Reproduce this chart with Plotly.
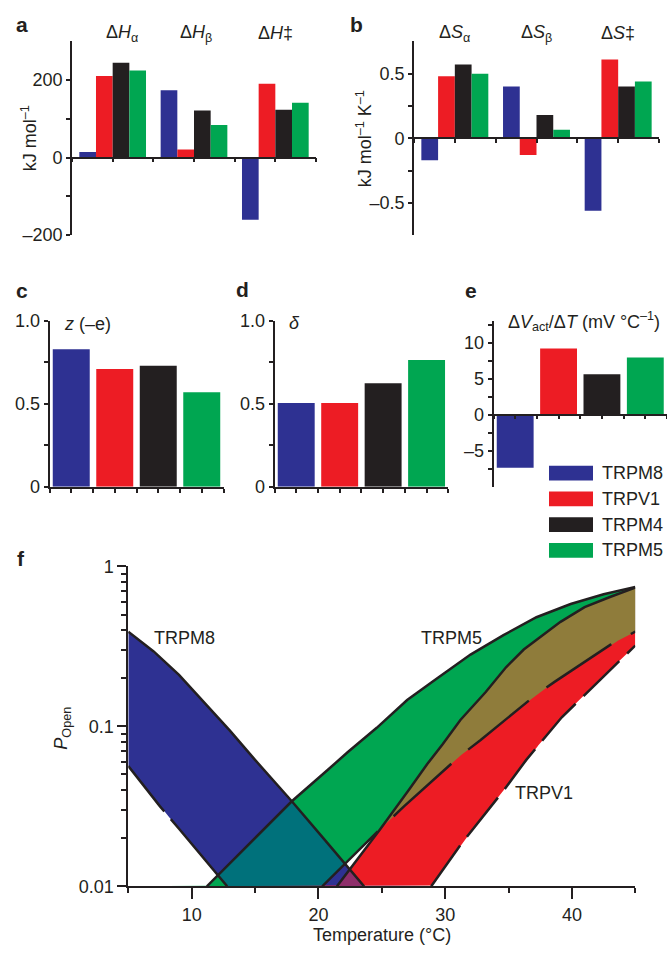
import numpy as np
import plotly.graph_objects as go

W, H = 667, 956
FONT = "Liberation Sans, Arial, sans-serif"
INK = "#231F20"

# ---------------- data ----------------
channels = ["TRPM8", "TRPV1", "TRPM4", "TRPM5"]
colors = ["#2E3192", "#ED1C24", "#231F20", "#00A651"]

# panel a: enthalpies (kJ mol-1)
h_labels = ["Δ<i>H</i><sub>α</sub>", "Δ<i>H</i><sub>β</sub>", "Δ<i>H</i>‡"]
dH_TRPM8 = [14, 173, -160]
dH_TRPV1 = [210, 21, 190]
dH_TRPM4 = [244, 121, 123]
dH_TRPM5 = [224, 84, 141]

# panel b: entropies (kJ mol-1 K-1)
s_labels = ["Δ<i>S</i><sub>α</sub>", "Δ<i>S</i><sub>β</sub>", "Δ<i>S</i>‡"]
dS_TRPM8 = [-0.17, 0.40, -0.56]
dS_TRPV1 = [0.48, -0.13, 0.61]
dS_TRPM4 = [0.57, 0.18, 0.40]
dS_TRPM5 = [0.50, 0.065, 0.44]

# panels c, d, e
z_charge = [0.83, 0.71, 0.73, 0.57]
delta = [0.505, 0.505, 0.625, 0.765]
dVact_dT = [-7.4, 9.2, 5.6, 7.95]

# panel f: P_open boundaries (temperature in degC, P_open)
T_M8_up = [5, 7, 9, 11, 13, 15, 17.9, 20.5, 23.6]
P_M8_up = [0.391, 0.294, 0.210, 0.141, 0.0944, 0.0617, 0.0340, 0.0195, 0.01]
T_M8_lo = [5, 7.5, 9, 11, 12.8]
P_M8_lo = [0.0565, 0.0316, 0.0229, 0.0148, 0.01]
T_M5_up = [11.2, 17.9, 20.7, 22.3, 24.6, 27, 29.1, 32, 34.6, 37.2, 39.9, 42.5, 45]
P_M5_up = [0.01, 0.0340, 0.0531, 0.0689, 0.0979, 0.146, 0.193, 0.281, 0.372, 0.481, 0.582, 0.670, 0.745]
T_M5_lo = [20.3, 22.1, 24.9, 26.75, 29.6, 31.2, 32.8, 37.1, 38.6, 43.05, 45]
P_M5_lo = [0.01, 0.0139, 0.0229, 0.0316, 0.0507, 0.0656, 0.0822, 0.156, 0.189, 0.324, 0.391]
T_V1_up = [21.46, 22.5, 24.9, 27.2, 28.6, 29.8, 31.2, 33.2, 34.8, 36.2, 37.5, 39.1, 41, 43.05, 45]
P_V1_up = [0.01, 0.0128, 0.0229, 0.0407, 0.0583, 0.0774, 0.1096, 0.164, 0.234, 0.302, 0.363, 0.450, 0.556, 0.646, 0.736]
T_V1_lo = [28.9, 31.2, 34.65, 36.4, 39.2, 40.7, 43.05, 45]
P_V1_lo = [0.01, 0.0181, 0.0401, 0.0617, 0.114, 0.149, 0.228, 0.320]

band_colors = {"M8": "#2E3192", "M5": "#00A651", "V1": "#ED1C24",
               "M8M5": "#00717B", "M5V1": "#8F7C3B", "M8V1": "#8E2E6A"}

# ---------------- helpers ----------------
def dx(a, b):
    return [a / W, b / W]

def dy(top, bot):
    return [1 - bot / H, 1 - top / H]

def px(x):
    return x / W

def py(y):
    return 1 - y / H

def zero_pos(rng, dom):
    return dom[0] + (0 - rng[0]) / (rng[1] - rng[0]) * (dom[1] - dom[0])

fig = go.Figure()

group_x = [0.5, 1.5, 2.5]
single_x = [0.5, 1.5, 2.5, 3.5]

for name, col, vals in zip(channels, colors, [dH_TRPM8, dH_TRPV1, dH_TRPM4, dH_TRPM5]):
    fig.add_trace(go.Bar(x=group_x, y=vals, name=name, marker=dict(color=col, line=dict(width=0)),
                         xaxis="x", yaxis="y", showlegend=False))
for name, col, vals in zip(channels, colors, [dS_TRPM8, dS_TRPV1, dS_TRPM4, dS_TRPM5]):
    fig.add_trace(go.Bar(x=group_x, y=vals, name=name, marker=dict(color=col, line=dict(width=0)),
                         xaxis="x2", yaxis="y2", showlegend=False))
for vals, ax in [(z_charge, "3"), (delta, "4"), (dVact_dT, "5")]:
    fig.add_trace(go.Bar(x=single_x, y=vals, width=0.85, marker=dict(color=colors, line=dict(width=0)),
                         xaxis="x" + ax, yaxis="y" + ax, showlegend=False))

# ---------------- panel f fills ----------------
grid = np.linspace(5, 45, 2001)

def curve(T, P, left=None, right=None):
    return np.interp(grid, T, np.log10(P), left=left, right=right)

def clip(lo, up):
    lo = np.maximum(lo, -2.0)
    up = np.maximum(np.minimum(up, 0.0), lo)
    return lo, up

M8 = clip(curve(T_M8_lo, P_M8_lo, right=-2.0), curve(T_M8_up, P_M8_up, right=-2.0))
M5 = clip(curve(T_M5_lo, P_M5_lo, left=-2.0), curve(T_M5_up, P_M5_up, left=-2.0))
V1 = clip(curve(T_V1_lo, P_V1_lo, left=-2.0), curve(T_V1_up, P_V1_up, left=-2.0))

def overlap(a, b):
    return clip(np.maximum(a[0], b[0]), np.minimum(a[1], b[1]))

def add_fill(band, color):
    lo, up = band
    fig.add_trace(go.Scatter(x=grid, y=10 ** lo, mode="lines", line=dict(width=0),
                             xaxis="x6", yaxis="y6", hoverinfo="skip", showlegend=False))
    fig.add_trace(go.Scatter(x=grid, y=10 ** up, mode="lines", line=dict(width=0),
                             fill="tonexty", fillcolor=color,
                             xaxis="x6", yaxis="y6", hoverinfo="skip", showlegend=False))

add_fill(M8, band_colors["M8"])
add_fill(M5, band_colors["M5"])
add_fill(V1, band_colors["V1"])
add_fill(overlap(M8, M5), band_colors["M8M5"])
add_fill(overlap(M5, V1), band_colors["M5V1"])
add_fill(overlap(M8, V1), band_colors["M8V1"])

for T, P, dash in [(T_M8_up, P_M8_up, "solid"), (T_M5_up, P_M5_up, "solid"), (T_V1_up, P_V1_up, "solid"),
                   (T_M8_lo, P_M8_lo, "58px,10px,200px"), (T_M5_lo, P_M5_lo, "78px,22px"),
                   (T_V1_lo, P_V1_lo, "50px,11px")]:
    fig.add_trace(go.Scatter(x=T, y=P, mode="lines", line=dict(color=INK, width=2.5, dash=dash),
                             xaxis="x6", yaxis="y6", hoverinfo="skip", showlegend=False))

# ---------------- axes ----------------
tickfont = dict(size=18, color=INK, family=FONT)
base = dict(showline=True, linecolor=INK, linewidth=1.8, showgrid=False, zeroline=False,
            ticks="outside", tickcolor=INK, tickwidth=1.5, tickfont=tickfont)

def xbar(dom, rng, **kw):
    d = dict(base, domain=dom, range=rng, tickmode="linear", tick0=0, dtick=0.5,
             ticklen=4, showticklabels=False)
    d.update(kw)
    return d

def ybar(dom, rng, tv, tt, minor, anchor):
    d = dict(base, domain=dom, range=rng, tickmode="array", tickvals=tv, ticktext=tt,
             ticklen=4, anchor=anchor,
             minor=dict(tickmode="array", tickvals=minor, ticks="outside", ticklen=4,
                        tickcolor=INK, tickwidth=1.5, showgrid=False))
    return d

ya_rng, ya_dom = [-200, 300], dy(31.7, 230)
yb_rng, yb_dom = [-0.75, 0.75], dy(32, 230)
yc_rng, yc_dom = [0, 1], dy(317.7, 487)
ye_rng, ye_dom = [-10, 13], dy(317.7, 486.7)

layout_axes = dict(
    xaxis=xbar(dx(72, 316), [0, 3], anchor="free", position=zero_pos(ya_rng, ya_dom)),
    yaxis=ybar(ya_dom, ya_rng, [-200, 0, 200], ["–200", "0", "200"], [-100, 100], "x"),
    xaxis2=xbar(dx(414, 659), [0, 3], anchor="free", position=zero_pos(yb_rng, yb_dom)),
    yaxis2=ybar(yb_dom, yb_rng, [-0.5, 0, 0.5], ["–0.5", "0", "0.5"], [-0.25, 0.25], "x2"),
    xaxis3=xbar(dx(49.5, 223.5), [0, 4], anchor="y3"),
    yaxis3=ybar(yc_dom, yc_rng, [0, 0.5, 1], ["0", "0.5", "1.0"], [0.25, 0.75], "x3"),
    xaxis4=xbar(dx(274.5, 448.3), [0, 4], anchor="y4"),
    yaxis4=ybar(yc_dom, yc_rng, [0, 0.5, 1], ["0", "0.5", "1.0"], [0.25, 0.75], "x4"),
    xaxis5=xbar(dx(493.5, 667), [0, 4], anchor="free", position=zero_pos(ye_rng, ye_dom)),
    yaxis5=ybar(ye_dom, ye_rng, [-5, 0, 5, 10], ["–5", "0", "5", "10"], [-7.5, -2.5, 2.5, 7.5, 12.5], "x5"),
    xaxis6=dict(base, domain=dx(128.3, 635.3), range=[5, 45], anchor="y6", tickmode="array",
                tickvals=[10, 20, 30, 40], ticktext=["10", "20", "30", "40"], ticklen=11,
                minor=dict(tickmode="array", tickvals=[5, 15, 25, 35, 45], ticks="outside", ticklen=5,
                           tickcolor=INK, tickwidth=1.5, showgrid=False)),
    yaxis6=dict(base, domain=dy(568.3, 895), type="log", range=[-2, 0], anchor="x6", tickmode="array",
                tickvals=[0.01, 0.1, 1], ticktext=["0.01", "0.1", "1"], ticklen=9,
                minor=dict(tickmode="array", tickvals=[k * 10.0 ** e for e in (-2, -1) for k in range(2, 10)],
                           ticks="outside", ticklen=5, tickcolor=INK, tickwidth=1.5, showgrid=False)),
)

# ---------------- annotations ----------------
ann = []

def text(x, y, s, size=18, xanchor="center", yanchor="middle", angle=0, xref="paper", yref="paper", xshift=0):
    ann.append(dict(x=x, y=y, xref=xref, yref=yref, text=s, showarrow=False, textangle=angle,
                    xanchor=xanchor, yanchor=yanchor, xshift=xshift,
                    font=dict(size=size, color=INK, family=FONT)))

for lab, (x, y) in zip(["a", "b", "c", "d", "e", "f"],
                       [(22, 15), (357, 15), (22, 286), (242, 285), (471, 287), (21, 560)]):
    text(px(x), py(y), "<b>" + lab + "</b>", size=21)

for i, lab in enumerate(h_labels):
    text(group_x[i], py(24), lab, size=18, xref="x", xshift=[9, 2, 0][i])
for i, lab in enumerate(s_labels):
    text(group_x[i], py(24), lab, size=18, xref="x2")

text(px(29), py(131), "kJ mol<sup>–1</sup>", size=18, angle=-90)
text(px(364), py(131), "kJ mol<sup>–1</sup> K<sup>–1</sup>", size=18, angle=-90)
text(px(62), py(321), "<i>z</i> (–e)", size=18, xanchor="left")
text(px(287), py(320), "<i>δ</i>", size=18, xanchor="left")
text(px(506), py(318), "Δ<i>V</i><sub>act</sub>/Δ<i>T</i> (mV °C<sup>–1</sup>)", size=18, xanchor="left")

shapes = []
for i, (name, col) in enumerate(zip(channels, colors)):
    yc = 473 + 26.3 * i
    shapes.append(dict(type="rect", xref="paper", yref="paper", x0=px(549), x1=px(593),
                       y0=py(yc + 7.5), y1=py(yc - 7.5), fillcolor=col, line=dict(width=0)))
    text(px(600), py(yc), name, size=18, xanchor="left")

text(9.4, -0.445, "TRPM8", size=18, xref="x6", yref="y6")
text(30.5, -0.445, "TRPM5", size=18, xref="x6", yref="y6")
text(37.8, -1.417, "TRPV1", size=18, xref="x6", yref="y6")
text(px(63), py(734), "<i>P</i><sub>Open</sub>", size=18, angle=-90)
text(px(382), py(945), "Temperature (°C)", size=18)

fig.update_layout(width=W, height=H, margin=dict(l=0, r=0, t=0, b=0), autosize=False,
                  plot_bgcolor="white", paper_bgcolor="white", barmode="group", bargap=0.18,
                  bargroupgap=0, showlegend=False, annotations=ann, shapes=shapes,
                  font=dict(family=FONT, color=INK), **layout_axes)

fig.write_html("out.html", config={"displayModeBar": False},
               post_script="document.body.style.margin='0';")
